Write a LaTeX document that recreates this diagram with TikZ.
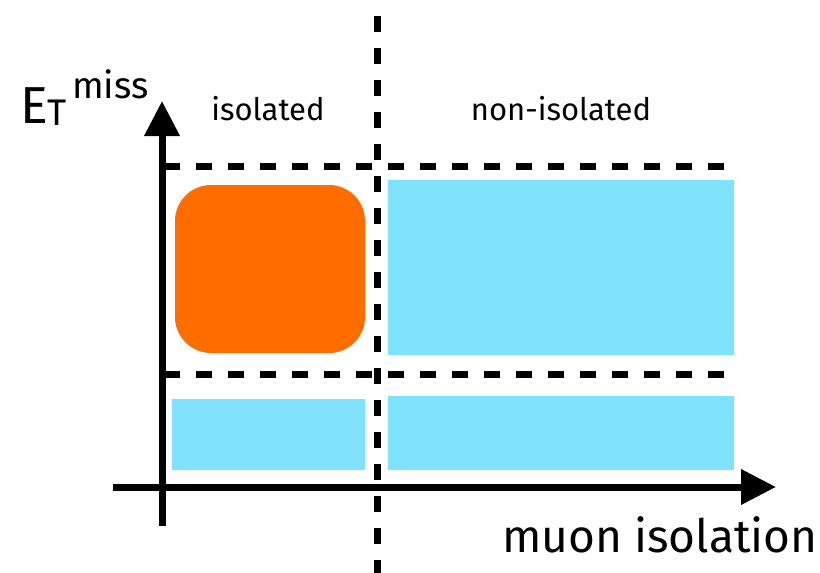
\documentclass[tikz,border=0pt]{standalone}
\usepackage{fontspec}
\setmainfont{Fira Sans}
\usetikzlibrary{arrows.meta}
\definecolor{boxorange}{HTML}{FF6D00}
\definecolor{boxcyan}{HTML}{80E2FC}
\tikzset{
  axisline/.style={line width=7pt, -{Triangle[length=35pt,width=34pt]}},
  dashline/.style={line width=7pt, dash pattern=on 16pt off 16pt},
  cyanbox/.style={fill=boxcyan, draw=none},
  orangebox/.style={fill=boxorange, draw=none, rounded corners=36pt},
  lbl/.style={inner sep=0pt, anchor=base, font=\fontsize{31}{36}\selectfont},
  axlbl/.style={inner sep=0pt, anchor=base west},
}
\begin{document}
\begin{tikzpicture}[x=1pt,y=-1pt]
\useasboundingbox (0,0) rectangle (820,573);
% boxes
\path[orangebox] (175,185) rectangle (365,353);
\path[cyanbox] (388,180) rectangle (734,355);
\path[cyanbox] (172,399) rectangle (365,470);
\path[cyanbox] (388,396) rectangle (734,470);
% dashed separators
\coordinate (vtop) at (377,16);
\coordinate (vbot) at (377,575);
\coordinate (h1l) at (164,166);
\coordinate (h1r) at (726,166);
\coordinate (h2l) at (164,374);
\coordinate (h2r) at (726,374);
\draw[dashline] (vtop) -- (vbot);
\draw[dashline] (h1l) -- (h1r);
\draw[dashline] (h2l) -- (h2r);
% axes
\coordinate (yb) at (162,526);
\coordinate (yt) at (162,101);
\coordinate (xl) at (113,487);
\coordinate (xr) at (776,487);
\draw[axisline] (yb) -- (yt);
\draw[axisline] (xl) -- (xr);
% labels
\node[lbl] (iso) at (268,120) {isolated};
\node[lbl] (noniso) at (561,120) {non-isolated};
\node[axlbl, font=\fontsize{46}{52}\selectfont] (xlab) at (502,552) {muon isolation};
\node[axlbl, font=\fontsize{52}{60}\selectfont] (E) at (20,123) {E};
\node[axlbl, font=\fontsize{37}{44}\selectfont] (Tsub) at (47,125) {T};
\node[axlbl, font=\fontsize{37}{44}\selectfont] (miss) at (72,98) {miss};
\end{tikzpicture}
\end{document}
